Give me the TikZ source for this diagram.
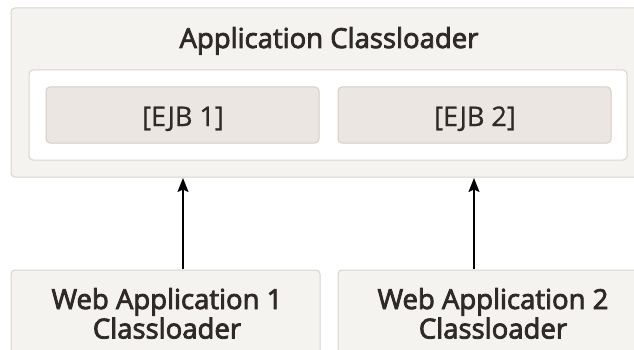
\documentclass[tikz,border=0pt]{standalone}
\usepackage{fontspec}
\usetikzlibrary{arrows.meta}
\setmainfont{Open Sans}
\newfontfamily\semifont[FakeBold=3]{Open Sans}
\newfontfamily\regfont[FakeBold=0.8]{Open Sans}
\definecolor{outerfill}{HTML}{F5F3F0}
\definecolor{outerdraw}{HTML}{D9D3CC}
\definecolor{ejbfill}{HTML}{EBE6E1}
\definecolor{ejbdraw}{HTML}{D5CDC5}
\definecolor{txt}{HTML}{2F2A28}
\begin{document}
\begin{tikzpicture}[x=1pt,y=-1pt,
  outerbox/.style={draw=outerdraw,fill=outerfill,line width=1pt,rounded corners=4pt},
  innerbox/.style={draw=outerdraw,fill=white,line width=1pt,rounded corners=4pt},
  ejbbox/.style={draw=ejbdraw,fill=ejbfill,line width=1pt,rounded corners=4pt},
  lbl/.style={text=txt,font=\fontsize{27}{30}\selectfont\regfont,align=center,inner sep=0pt,anchor=base},
  semilbl/.style={lbl,font=\fontsize{27.5}{30}\selectfont\semifont},
  arr/.style={-{Stealth[length=14pt,width=11pt,inset=2.5pt]},line width=1.6pt,black}]
\useasboundingbox (0,0) rectangle (634,350);
\clip (0,0) rectangle (634,350);
% outer application classloader
\draw[outerbox] (11,8) rectangle (650,177);
\node[semilbl] (title) at (329,48) {Application Classloader};
\draw[innerbox] (29,70) rectangle (627,160);
\draw[ejbbox] (46,87) rectangle (319,143);
\node[lbl] (ejb1) at (183,126) {[EJB 1]};
\draw[ejbbox] (338,87) rectangle (611,143);
\node[lbl] (ejb2) at (475,126) {[EJB 2]};
\coordinate (top1) at (183,178);
\coordinate (top2) at (474,178);
% web app classloaders
\draw[outerbox] (11,270) rectangle (320,370);
\node[semilbl] (web1a) at (167,309) {Web Application 1};
\node[semilbl] (web1b) at (167,338.5) {Classloader};
\draw[outerbox] (338,270) rectangle (650,370);
\node[semilbl] (web2a) at (493,309) {Web Application 2};
\node[semilbl] (web2b) at (493,338.5) {Classloader};
\coordinate (bot1) at (183,269);
\coordinate (bot2) at (474,269);
\draw[arr] (bot1) -- (top1);
\draw[arr] (bot2) -- (top2);
\end{tikzpicture}
\end{document}
